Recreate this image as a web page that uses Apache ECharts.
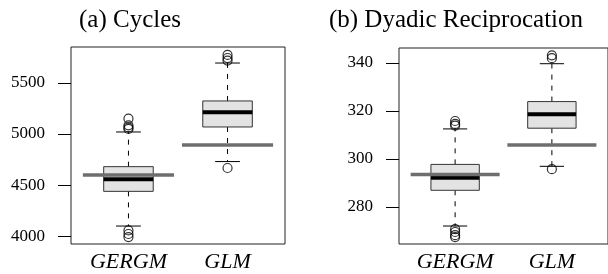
<!DOCTYPE html>
<html>
<head>
<meta charset="UTF-8">
<title>Cycles / Dyadic Reciprocation</title>
<script src="https://cdn.jsdelivr.net/npm/echarts@6/dist/echarts.min.js"></script>
<style>
html, body { margin: 0; padding: 0; background: #fff; }
#main { width: 608px; height: 274px; }
</style>
</head>
<body>
<div id="main"></div>
<script>
// categories on the x axis
var categories = ['GERGM', 'GLM'];

// (a) Cycles: [lower whisker, Q1, median, Q3, upper whisker]
var cyclesBox = [[4098, 4438, 4556, 4680, 5020], [4730, 5069, 5213, 5324, 5696]];
var cyclesOutliers = [[5150, 5085, 5065, 5050, 4055, 4020, 3990], [5775, 5745, 5720, 4667]];
var cyclesObserved = [4598, 4892];
var cyclesTicks = [4000, 4500, 5000, 5500];

// (b) Dyadic Reciprocation
var recipBox = [[272, 286.9, 292.1, 297.7, 312.5], [296.9, 312.8, 318.6, 323.9, 339.7]];
var recipOutliers = [[315.8, 314.6, 313.9, 270.7, 269.5, 268.2, 267.4], [343.2, 342, 295.7]];
var recipObserved = [293.5, 305.8];
var recipTicks = [280, 300, 320, 340];

var xTicks = [1, 2];
var serif = 'Liberation Serif';

function boxData(box) {
	return box.map(function (b, i) { return [i + 1].concat(b); });
}
function outlierData(out) {
	var res = [];
	out.forEach(function (vals, i) {
		vals.forEach(function (v) { res.push([i + 1, v]); });
	});
	return res;
}
function obsData(obs) {
	return obs.map(function (v, i) { return [i + 1, v]; });
}

// R style box: dashed whiskers, staples, grey box, thick median
function renderBox(params, api) {
	var x = api.value(0);
	var bw = api.size([0.5, 0])[0];
	var cx = api.coord([x, api.value(3)])[0];
	var yLo = api.coord([x, api.value(1)])[1];
	var yQ1 = api.coord([x, api.value(2)])[1];
	var yMed = api.coord([x, api.value(3)])[1];
	var yQ3 = api.coord([x, api.value(4)])[1];
	var yHi = api.coord([x, api.value(5)])[1];
	var dash = { stroke: '#000', lineWidth: 1, lineDash: [5, 6] };
	var solid = { stroke: '#000', lineWidth: 1 };
	return {
		type: 'group',
		children: [
			{ type: 'line', shape: { x1: cx, y1: yQ3, x2: cx, y2: yHi }, style: dash },
			{ type: 'line', shape: { x1: cx, y1: yQ1, x2: cx, y2: yLo }, style: dash },
			{ type: 'line', shape: { x1: cx - bw / 4, y1: yHi, x2: cx + bw / 4, y2: yHi }, style: solid },
			{ type: 'line', shape: { x1: cx - bw / 4, y1: yLo, x2: cx + bw / 4, y2: yLo }, style: solid },
			{ type: 'rect', shape: { x: cx - bw / 2, y: yQ3, width: bw, height: yQ1 - yQ3 },
				style: { fill: '#e3e3e3', stroke: '#333', lineWidth: 1 } },
			{ type: 'line', shape: { x1: cx - bw / 2, y1: yMed, x2: cx + bw / 2, y2: yMed },
				style: { stroke: '#000', lineWidth: 4 } }
		]
	};
}

function renderObs(params, api) {
	var x = api.value(0);
	var p1 = api.coord([x - 0.46, api.value(1)]);
	var p2 = api.coord([x + 0.46, api.value(1)]);
	return {
		type: 'line',
		shape: { x1: p1[0], y1: p1[1], x2: p2[0], y2: p2[1] },
		style: { stroke: '#6e6e6e', lineWidth: 3.5 }
	};
}

function xAxis(idx) {
	return {
		type: 'value', gridIndex: idx, min: 0.42, max: 2.58,
		axisLine: { show: false }, axisTick: { show: false }, splitLine: { show: false },
		axisLabel: {
			customValues: xTicks,
			formatter: function (v) { return categories[v - 1]; },
			margin: 7, color: '#000', fontFamily: serif, fontStyle: 'italic', fontSize: 22
		}
	};
}
function yAxis(idx, min, max, ticks) {
	return {
		type: 'value', gridIndex: idx, min: min, max: max,
		axisLine: { show: false }, splitLine: { show: false },
		axisTick: { show: true, customValues: ticks, length: 13, lineStyle: { color: '#000' } },
		axisLabel: {
			customValues: ticks, margin: 26, color: '#000', fontFamily: serif, fontSize: 17,
			formatter: function (v) { return String(v); }
		}
	};
}

var chart = echarts.init(document.getElementById('main'));
chart.setOption({
	backgroundColor: '#fff',
	animation: false,
	graphic: [
		{ type: 'text', x: 130, y: 20, style: { text: '(a) Cycles', align: 'center', verticalAlign: 'middle',
			font: '25px "Liberation Serif"', fill: '#000' } },
		{ type: 'text', x: 456, y: 20, style: { text: '(b) Dyadic Reciprocation', align: 'center', verticalAlign: 'middle',
			font: '25px "Liberation Serif"', fill: '#000' } }
	],
	grid: [
		{ left: 71, top: 47, width: 214, height: 197, show: true, borderColor: '#222', borderWidth: 1 },
		{ left: 399, top: 48, width: 214, height: 196, show: true, borderColor: '#222', borderWidth: 1 }
	],
	xAxis: [xAxis(0), xAxis(1)],
	yAxis: [yAxis(0, 3922, 5853, cyclesTicks), yAxis(1, 264.5, 346.25, recipTicks)],
	series: [
		{ type: 'custom', xAxisIndex: 0, yAxisIndex: 0, renderItem: renderBox, data: boxData(cyclesBox),
			encode: { x: 0, y: [1, 2, 3, 4, 5] } },
		{ type: 'scatter', xAxisIndex: 0, yAxisIndex: 0, data: outlierData(cyclesOutliers), symbol: 'circle', symbolSize: 9,
			itemStyle: { color: 'rgba(0,0,0,0)', borderColor: '#000', borderWidth: 1.2 } },
		{ type: 'custom', xAxisIndex: 0, yAxisIndex: 0, renderItem: renderObs, data: obsData(cyclesObserved),
			encode: { x: 0, y: 1 } },
		{ type: 'custom', xAxisIndex: 1, yAxisIndex: 1, renderItem: renderBox, data: boxData(recipBox),
			encode: { x: 0, y: [1, 2, 3, 4, 5] } },
		{ type: 'scatter', xAxisIndex: 1, yAxisIndex: 1, data: outlierData(recipOutliers), symbol: 'circle', symbolSize: 9,
			itemStyle: { color: 'rgba(0,0,0,0)', borderColor: '#000', borderWidth: 1.2 } },
		{ type: 'custom', xAxisIndex: 1, yAxisIndex: 1, renderItem: renderObs, data: obsData(recipObserved),
			encode: { x: 0, y: 1 } }
	]
});
</script>
</body>
</html>
